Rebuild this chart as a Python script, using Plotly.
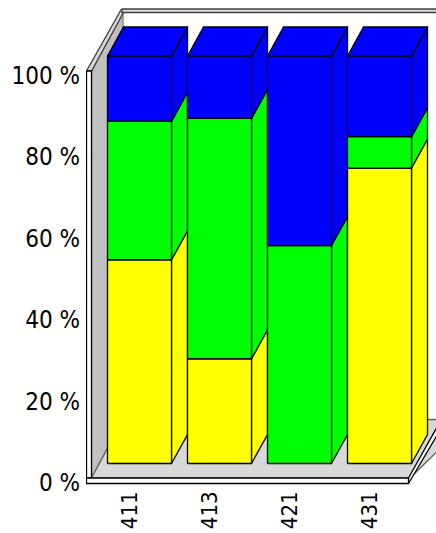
import plotly.graph_objects as go

categories = ["411", "413", "421", "431"]
yellow_values = [50.0, 25.7, 0.0, 72.5]
green_values = [34.0, 59.0, 53.5, 7.7]
blue_values = [16.0, 15.3, 46.5, 19.8]
y_ticks = [0, 20, 40, 60, 80, 100]
y_tick_labels = ["0 %", "20 %", "40 %", "60 %", "80 %", "100 %"]

W, H = 436, 533
L, B = 86, 48
PLOT_BOTTOM = H - B
PX_PER_X = 80.0
PX_PER_Y = 4.075
ZERO_X_PX = 129.5   # pixel of category 0 on the axis
ZERO_Y_PX = 483.0   # pixel of 0 % on the axis
X_RANGE = [(L - ZERO_X_PX) / PX_PER_X, (W - ZERO_X_PX) / PX_PER_X]
Y_RANGE = [(ZERO_Y_PX - PLOT_BOTTOM) / PX_PER_Y, ZERO_Y_PX / PX_PER_Y]

def fx(px):
    return (px - ZERO_X_PX) / PX_PER_X

def fy(py):
    return (ZERO_Y_PX - py) / PX_PER_Y

fig = go.Figure()

def poly(xs, ys, fill, line="#000000", width=1.3):
    fig.add_trace(go.Scatter(
        x=list(xs) + [xs[0]], y=list(ys) + [ys[0]], mode="lines", fill="toself",
        fillcolor=fill, line=dict(color=line, width=width), hoverinfo="skip", showlegend=False))

def pxpoly(pts, fill, line="#000000", width=1.3):
    poly([fx(p[0]) for p in pts], [fy(p[1]) for p in pts], fill, line, width)

# frame: side wall, floor, rails
pxpoly([(91.5, 71), (123, 12.5), (123, 419.5), (91.5, 478)], "#C0C0C0", "#808080")
pxpoly([(86.5, 71), (121.5, 9), (123.5, 12.5), (91.5, 71)], "#D8D8D8", "#404040")
pxpoly([(122, 9), (470, 9), (470, 12.5), (122, 12.5)], "#D8D8D8", "#404040")
pxpoly([(91.5, 478), (123, 419.5), (470, 419.5), (410, 478)], "#D8D8D8", "#606060")
pxpoly([(408.5, 478), (441, 420), (446, 420), (408.5, 483.5)], "#FFFFFF", "#000000")
pxpoly([(86.5, 71), (91.5, 71), (91.5, 478), (86.5, 478)], "#FFFFFF")
pxpoly([(86.5, 478), (408.5, 478), (408.5, 483.5), (86.5, 483.5)], "#FFFFFF")

# bars: stacked 100 % boxes, placed by category index and value
BAR_LEFT = fx(107.5)
BAR_W = 64 / PX_PER_X
DEPTH_X = 16 / PX_PER_X
DEPTH_Y = 29 / PX_PER_Y
BASE = fy(463.5)
series = [(yellow_values, "#FFFF00"), (green_values, "#00FF00"), (blue_values, "#0000FF")]

for i in range(len(categories)):
    x0 = i + BAR_LEFT
    x1 = x0 + BAR_W
    acc = BASE
    top_index = max(k for k, (vals, _) in enumerate(series) if vals[i] > 0)
    for k, (vals, color) in enumerate(series):
        v = vals[i]
        if v <= 0:
            continue
        y0, y1 = acc, acc + v
        poly([x1, x1 + DEPTH_X, x1 + DEPTH_X, x1],
             [y0, y0 + DEPTH_Y, y1 + DEPTH_Y, y1], color)
        if k == top_index:
            poly([x0, x0 + DEPTH_X, x1 + DEPTH_X, x1],
                 [y1, y1 + DEPTH_Y, y1 + DEPTH_Y, y1], color)
        poly([x0, x1, x1, x0], [y0, y0, y1, y1], color)
        acc = y1

fam = "DejaVu Sans Condensed, Tahoma, DejaVu Sans"
fig.update_layout(
    width=W, height=H, margin=dict(l=L, r=0, t=0, b=B, autoexpand=False),
    paper_bgcolor="#FFFFFF", plot_bgcolor="#FFFFFF", showlegend=False,
    xaxis=dict(range=X_RANGE, tickmode="array", tickvals=list(range(len(categories))),
               ticktext=categories, tickangle=-90, showgrid=False, zeroline=False, showline=False,
               ticks="", ticklabelstandoff=1, tickfont=dict(family=fam, size=22, color="#000000"),
               automargin=False),
    yaxis=dict(range=Y_RANGE, tickmode="array", tickvals=y_ticks, ticktext=y_tick_labels,
               showgrid=False, zeroline=False, showline=False,
               ticks="", ticklabelstandoff=5, tickfont=dict(family=fam, size=24, color="#000000"),
               automargin=False),
)
fig.write_html("out.html", config={"displayModeBar": False},
               post_script="document.body.style.margin='0';document.body.style.overflow='hidden';")
